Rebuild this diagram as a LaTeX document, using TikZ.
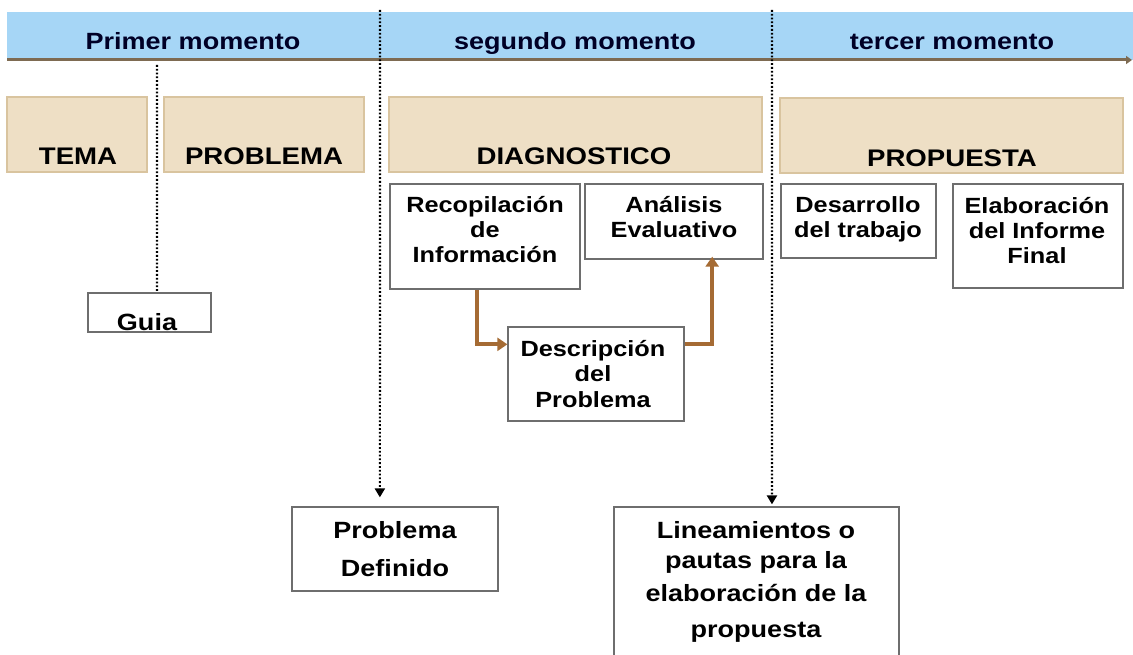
\documentclass[tikz,border=0pt]{standalone}
\usepackage{fontspec}
\setmainfont{Liberation Sans}[FakeStretch=1.15]
\usetikzlibrary{arrows.meta,calc}
\definecolor{bandblue}{HTML}{A6D6F6}
\definecolor{tanfill}{HTML}{EEDFC5}
\definecolor{tanborder}{HTML}{D9C49F}
\definecolor{boxgray}{HTML}{6E6E6E}
\definecolor{timebrown}{HTML}{7E6B52}
\definecolor{arrbrown}{HTML}{A56B34}
\begin{document}
\begin{tikzpicture}[x=1pt,y=-1pt,
  wbox/.style={draw=boxgray, line width=1.3pt, fill=white, inner sep=0pt},
  tbox/.style={draw=tanborder, line width=1.5pt, fill=tanfill, inner sep=0pt},
  hdr/.style={inner sep=0pt, anchor=base, font=\fontsize{23.5}{26}\selectfont\bfseries, text=black!85!blue},
  ttl/.style={inner sep=0pt, anchor=base, font=\fontsize{24}{26}\selectfont\bfseries},
  txt/.style={inner sep=0pt, anchor=base, align=center, font=\fontsize{22}{25.5}\selectfont\bfseries},
  btxt/.style={inner sep=0pt, anchor=base, align=center, font=\fontsize{23.5}{38}\selectfont\bfseries},
  dotline/.style={black, line width=2.2pt, dash pattern=on 1.8pt off 2pt},
  dottip/.style={-{Triangle[length=9pt,width=10pt]}},
  flow/.style={arrbrown, line width=4pt, -{Triangle[length=10pt,width=13pt]}}
]
\useasboundingbox (0,0) rectangle (1133,655);

% header band and timeline
\fill[bandblue] (7,12) rectangle (1133,60);
\coordinate (tl0) at (7,60);
\coordinate (tl1) at (1132,60);
\draw[timebrown, line width=3pt, -{Triangle[length=6pt,width=8pt]}] (tl0) -- (tl1);
\node[hdr] (h1) at (193,50) {Primer momento};
\node[hdr] (h2) at (575,50) {segundo momento};
\node[hdr] (h3) at (952,50) {tercer momento};

% tan boxes
\node[tbox, minimum width=140pt, minimum height=75pt] (tema) at (77,134.5) {};
\node[tbox, minimum width=200pt, minimum height=75pt] (probl) at (264,134.5) {};
\node[tbox, minimum width=373pt, minimum height=75pt] (diag) at (575.5,134.5) {};
\node[tbox, minimum width=343pt, minimum height=75pt] (prop) at (951.5,135.5) {};
\node[ttl] (ttema) at (78,165) {TEMA};
\node[ttl] (tprobl) at (264,165) {PROBLEMA};
\node[ttl] (tdiag) at (574,165) {DIAGNOSTICO};
\node[ttl] (tprop) at (952,167) {PROPUESTA};

% white boxes
\node[wbox, minimum width=190pt, minimum height=105pt] (recop) at (485,236.5) {};
\node[wbox, minimum width=178pt, minimum height=75pt] (anal) at (674,221.5) {};
\node[wbox, minimum width=176pt, minimum height=94pt] (desc) at (596,374) {};
\node[wbox, minimum width=155pt, minimum height=74pt] (desa) at (858.5,221) {};
\node[wbox, minimum width=170pt, minimum height=104pt] (elab) at (1038,236) {};
\node[wbox, minimum width=123pt, minimum height=39pt] (guia) at (149.5,312.5) {};
\node[wbox, minimum width=206pt, minimum height=84pt] (pd) at (395,549) {};
\node[wbox, minimum width=285pt, minimum height=180pt] (lin) at (756.5,597) {};

% texts (anchor = baseline of the last line)
\node[txt] (trecop) at (485,263) {Recopilación\\de\\Información};
\node[txt] (tanal) at (674,238) {Análisis\\Evaluativo};
\node[txt] (tdesc) at (593,407) {Descripción\\del\\Problema};
\node[txt] (tdesa) at (858,238) {Desarrollo\\del trabajo};
\node[txt] (telab) at (1037,264) {Elaboración\\del Informe\\Final};
\node[btxt] (tguia) at (147,330) {Guia};
\node[btxt] (tpd) at (395,576) {Problema\\Definido};
\node[btxt, font=\fontsize{23.5}{30}\selectfont\bfseries] (tlin) at (756,637) {Lineamientos o\\pautas para la\\[3pt]elaboración de la\\[6pt]propuesta};

% brown flow arrows
\draw[flow] ($(recop.south west)!0.458!(recop.south east)$) |- ($(desc.north west)+(0,18)$);
\draw[flow, shorten >=-3pt] ($(desc.north east)+(0,18)$) -| ($(anal.south west)!0.713!(anal.south east)$);

% dotted lines
\coordinate (d1) at (380,10);
\coordinate (d2) at (772,10);
\coordinate (d3) at (157,65);
\draw[dotline, dottip, shorten >=9pt] (d1) -- ($(pd.north west)!0.427!(pd.north east)$);
\draw[dotline, dottip, shorten >=2pt] (d2) -- ($(lin.north west)!0.554!(lin.north east)$);
\draw[dotline] (d3) -- ($(guia.north west)!0.561!(guia.north east)$);
\end{tikzpicture}
\end{document}
